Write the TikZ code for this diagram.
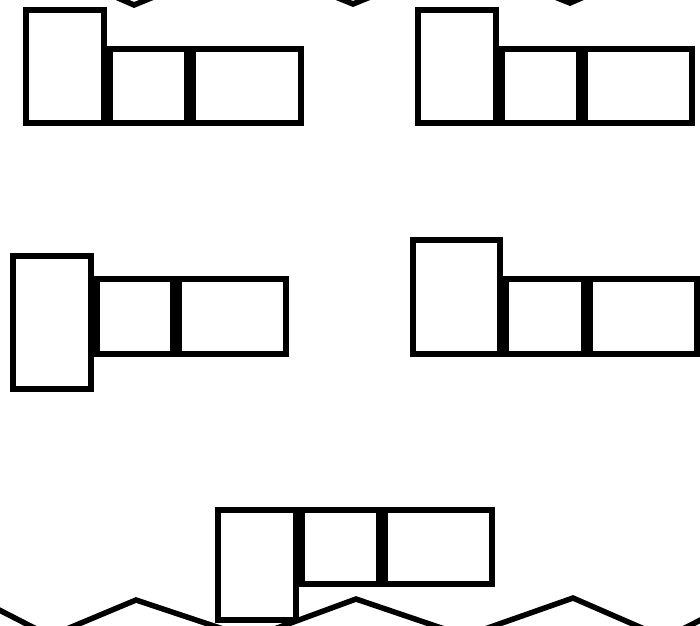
\documentclass[tikz,border=0pt]{standalone}
\begin{document}
\begin{tikzpicture}[x=1pt,y=-1pt,
  box/.style={draw=black, line width=6pt},
  tear/.style={draw=black, line width=5.5pt, line join=miter}]
\useasboundingbox[fill=white] (0,0) rectangle (700,625);
\clip (0,0) rectangle (700,625);
% group 1 (top left)
\draw[box] (26,10) rectangle (104,123);
\draw[box] (110,49) rectangle (187,123);
\draw[box] (193,49) rectangle (301,123);
% group 2 (top right)
\draw[box] (418,10) rectangle (496,123);
\draw[box] (502,49) rectangle (579,123);
\draw[box] (585,49) rectangle (692,123);
% group 3 (middle left)
\draw[box] (13,256) rectangle (91,389);
\draw[box] (97,279) rectangle (173,354);
\draw[box] (179,279) rectangle (286,354);
% group 4 (middle right)
\draw[box] (413,240) rectangle (500,354);
\draw[box] (506,279) rectangle (584,354);
\draw[box] (590,279) rectangle (697,354);
% group 5 (bottom)
\draw[box] (218,510) rectangle (296,620);
\draw[box] (302,510) rectangle (379,584);
\draw[box] (385,510) rectangle (492,584);
% torn edges
\draw[tear] (20,-45) -- (134,5) -- (244,-40) -- (353,4) -- (462,-40) -- (570,3) -- (680,-45);
\draw[tear] (-30,595) -- (50,636) -- (136,600) -- (250,638) -- (356,599) -- (465,636) -- (573,598) -- (665,638) -- (740,600);
\end{tikzpicture}
\end{document}
